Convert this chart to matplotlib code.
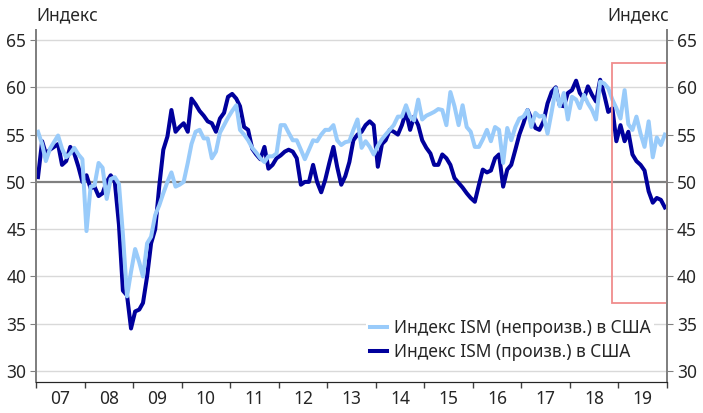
import numpy as np
import pandas as pd
import matplotlib
matplotlib.use('Agg')
import matplotlib.pyplot as plt
import matplotlib.dates as mdates
from matplotlib.patches import Rectangle

plt.rcParams['font.family'] = ['Noto Sans', 'DejaVu Sans']

# monthly values, Jan 2007 .. Dec 2019
ism_manuf = [
    50.5, 54.3, 53.0, 53.4, 53.7, 54.0, 51.8, 52.2, 53.7, 53.0, 51.6, 50.0,   # 2007
    50.7, 49.3, 49.5, 48.5, 48.8, 50.0, 50.7, 50.0, 45.5, 38.5, 38.0, 34.5,   # 2008
    36.3, 36.5, 37.2, 40.0, 43.5, 45.0, 49.5, 53.4, 54.8, 57.6, 55.3, 55.8,   # 2009
    56.2, 55.3, 58.8, 58.2, 57.5, 57.0, 56.4, 56.2, 55.3, 56.7, 57.3, 59.0,   # 2010
    59.3, 58.8, 58.0, 55.8, 55.5, 53.5, 52.9, 52.4, 53.7, 51.4, 51.8, 52.5,   # 2011
    52.8, 53.2, 53.4, 53.2, 52.5, 49.7, 50.0, 50.0, 51.8, 50.0, 48.9, 50.2,   # 2012
    52.0, 53.7, 51.6, 49.7, 50.6, 52.1, 54.4, 55.0, 55.3, 56.0, 56.4, 56.0,   # 2013
    51.6, 54.0, 54.4, 55.5, 55.3, 55.0, 56.0, 57.4, 55.5, 56.9, 56.0, 54.4,   # 2014
    53.6, 53.0, 51.8, 51.8, 52.9, 52.5, 51.8, 50.4, 49.9, 49.4, 48.8, 48.3,   # 2015
    47.9, 49.7, 51.3, 51.0, 51.2, 52.5, 52.9, 49.5, 51.3, 51.8, 53.4, 55.0,   # 2016
    56.2, 57.6, 56.7, 55.7, 55.5, 56.4, 58.3, 59.5, 60.0, 58.1, 58.0, 59.4,   # 2017
    59.7, 60.7, 59.4, 58.8, 60.1, 59.2, 58.5, 60.8, 59.2, 57.4, 57.8, 54.3,   # 2018
    56.0, 54.3, 55.3, 52.9, 52.2, 51.8, 51.2, 49.0, 47.8, 48.3, 48.1, 47.3,   # 2019
]
ism_nonmanuf = [
    55.3, 54.0, 52.2, 53.5, 54.2, 54.9, 53.5, 52.6, 53.0, 53.6, 52.9, 52.4,   # 2007
    44.8, 49.5, 49.6, 52.0, 51.5, 48.2, 50.3, 50.5, 49.8, 44.4, 37.9, 40.5,   # 2008
    42.9, 41.5, 40.0, 43.5, 44.2, 46.5, 47.5, 48.8, 50.0, 51.0, 49.5, 49.7,   # 2009
    50.0, 52.0, 54.0, 55.3, 55.5, 54.6, 54.6, 52.5, 53.2, 55.2, 56.0, 56.8,   # 2010
    57.5, 58.1, 55.5, 55.0, 54.4, 53.6, 53.1, 52.5, 52.1, 52.7, 52.7, 53.0,   # 2011
    56.0, 56.0, 55.2, 54.4, 54.4, 53.4, 52.4, 53.4, 54.4, 54.3, 55.0, 55.5,   # 2012
    55.5, 56.0, 54.4, 53.9, 54.2, 54.3, 55.5, 56.6, 53.6, 54.3, 53.7, 52.9,   # 2013
    53.8, 54.5, 55.0, 55.5, 56.0, 56.9, 56.9, 58.1, 56.9, 56.5, 58.7, 56.6,   # 2014
    57.0, 57.2, 57.4, 57.7, 57.6, 56.0, 59.5, 58.0, 56.0, 58.1, 55.8, 55.3,   # 2015
    53.7, 53.7, 54.5, 55.5, 54.3, 55.8, 55.5, 52.0, 55.7, 54.4, 55.8, 56.7,   # 2016
    56.9, 57.6, 55.8, 57.3, 56.9, 57.0, 55.1, 57.4, 59.9, 58.0, 59.4, 56.6,   # 2017
    59.0, 58.7, 57.8, 59.2, 58.3, 57.6, 56.6, 60.6, 60.4, 59.9, 58.7, 57.8,   # 2018
    56.7, 59.7, 56.1, 55.5, 56.9, 55.1, 53.7, 56.4, 52.6, 54.7, 53.9, 55.0,   # 2019
]
year_labels = ['07', '08', '09', '10', '11', '12', '13', '14', '15', '16', '17', '18', '19']
label_manuf = 'Индекс ISM (произв.) в США'
label_nonmanuf = 'Индекс ISM (непроизв.) в США'

dates = pd.date_range('2007-01-01', periods=len(ism_manuf), freq='MS') + pd.Timedelta(days=15)

dark = '#00009c'
light = '#99cbfa'
txt = '#262626'

fig = plt.figure(figsize=(7.03, 4.13), dpi=100)
ax = fig.add_axes([36/703, 31/413, 631/703, 352/413])

ax.set_ylim(28.84, 66.06)
ax.set_xlim(pd.Timestamp('2007-01-01'), pd.Timestamp('2020-01-01'))

for v in range(30, 70, 5):
    if v != 50:
        ax.axhline(v, color='#d9d9d9', lw=1.0, zorder=0)
ax.axhline(50, color='#808080', lw=1.6, zorder=1)

ax.plot(dates, ism_manuf, color=dark, lw=2.9, label=label_manuf, zorder=3, solid_joinstyle='round')
ax.plot(dates, ism_nonmanuf, color=light, lw=2.9, label=label_nonmanuf, zorder=4, solid_joinstyle='round')

# highlight box around the latest period
x0 = mdates.date2num(pd.Timestamp('2018-11-14'))
x1 = mdates.date2num(pd.Timestamp('2019-12-29'))
ax.add_patch(Rectangle((x0, 37.24), x1 - x0, 62.55 - 37.24, fill=False,
                       edgecolor='#f08c8c', lw=1.3, zorder=5))

# x axis: year ticks, labels centred between them
ax.xaxis.set_major_locator(mdates.YearLocator())
ax.xaxis.set_major_formatter(plt.NullFormatter())
mids = [pd.Timestamp(f'{2007 + i}-07-02') for i in range(len(year_labels))]
ax.set_xticks(mids, minor=True)
ax.set_xticklabels(year_labels, minor=True)
ax.tick_params(axis='x', which='major', direction='out', length=4, width=1, color='#404040')
ax.tick_params(axis='x', which='minor', length=0, pad=6, labelsize=12.5, labelcolor=txt)

ax.set_yticks(range(30, 70, 5))
ax.tick_params(axis='y', direction='out', length=4, color='#808080', labelsize=12.5,
               labelcolor=txt, pad=3)

ax2 = ax.twinx()
ax2.set_ylim(ax.get_ylim())
ax2.set_yticks(range(30, 70, 5))
ax2.tick_params(axis='y', direction='out', length=4, color='#808080', labelsize=12.5,
                labelcolor=txt, pad=3)

for a in (ax, ax2):
    a.spines['top'].set_visible(False)
    a.spines['left'].set_color('#808080')
    a.spines['right'].set_color('#808080')
    a.spines['left'].set_linewidth(1.3)
    a.spines['right'].set_linewidth(1.3)
    a.spines['bottom'].set_color('#262626')

fig.text(36/703, 1 - 15/413, 'Индекс', fontsize=12.5, color=txt, ha='left', va='center')
fig.text(669/703, 1 - 15/413, 'Индекс', fontsize=12.5, color=txt, ha='right', va='center')

h, l = ax.get_legend_handles_labels()
leg = ax.legend(h[::-1], l[::-1], loc='lower right', bbox_to_anchor=(0.98, 0.05),
                frameon=True, fontsize=12.5, handlelength=1.0, handletextpad=0.4,
                labelspacing=0.35, borderpad=0.2, borderaxespad=0)
leg.get_frame().set_edgecolor('none')
leg.get_frame().set_facecolor('white')
leg.get_frame().set_alpha(1.0)
for t in leg.get_texts():
    t.set_color(txt)

fig.savefig('out.png', dpi=100)
